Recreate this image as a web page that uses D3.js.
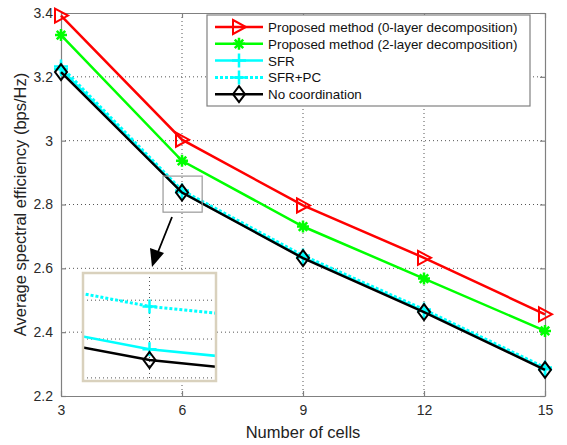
<!DOCTYPE html>
<html>
<head>
<meta charset="utf-8">
<style>
  body { margin: 0; background: #fff; }
  svg { font-family: "Liberation Sans", Arial, sans-serif; }
</style>
</head>
<body>
<svg id="chart" width="567" height="445"></svg>
<script src="https://d3js.org/d3.v7.min.js"></script>
<script>
// data
let cells = [3, 6, 9, 12, 15]
let proposed0 = [3.392, 3.003, 2.797, 2.633, 2.456]
let proposed2 = [3.331, 2.937, 2.731, 2.568, 2.404]
let sfr = [3.224, 2.8387, 2.634, 2.466, 2.284]
let sfrPc = [3.232, 2.8442, 2.640, 2.471, 2.289]
let noCoord = [3.215, 2.8373, 2.632, 2.463, 2.282]
let xTicks = [3, 6, 9, 12, 15]
let yTicks = [2.2, 2.4, 2.6, 2.8, 3.0, 3.2, 3.4]
let legendNames = ['Proposed method (0-layer decomposition)', 'Proposed method (2-layer decomposition)',
    'SFR', 'SFR+PC', 'No coordination']

let series = [
    {name: legendNames[0], vals: proposed0, color: '#ff0000', marker: 'tri', dash: null},
    {name: legendNames[1], vals: proposed2, color: '#00ff00', marker: 'star', dash: null},
    {name: legendNames[2], vals: sfr, color: '#00ffff', marker: 'plus', dash: null},
    {name: legendNames[3], vals: sfrPc, color: '#00ffff', marker: 'plus', dash: '3,2'},
    {name: legendNames[4], vals: noCoord, color: '#000000', marker: 'diamond', dash: null}
]

let svg = d3.select('#chart')
let pLeft = 61, pRight = 545, pTop = 13, pBottom = 396

let x = d3.scaleLinear().domain([3, 15]).range([pLeft, pRight])
let y = d3.scaleLinear().domain([2.2, 3.4]).range([pBottom, pTop])

// grid
let grid = svg.append('g')
grid.selectAll('.vg').data(xTicks.slice(1, -1)).enter().append('line')
    .attr('x1', d => x(d)).attr('x2', d => x(d)).attr('y1', pTop).attr('y2', pBottom)
grid.selectAll('.hg').data(yTicks.slice(1, -1)).enter().append('line')
    .attr('y1', d => y(d)).attr('y2', d => y(d)).attr('x1', pLeft).attr('x2', pRight)
grid.selectAll('line').attr('stroke', '#555').attr('stroke-width', 1).attr('stroke-dasharray', '1,3')

// axes
let fmt = d => String(+d.toFixed(1))
svg.append('g').attr('transform', `translate(0,${pBottom})`)
    .call(d3.axisBottom(x).tickValues(xTicks).tickSizeInner(-5).tickSizeOuter(0).tickPadding(9))
svg.append('g').attr('transform', `translate(${pLeft},0)`)
    .call(d3.axisLeft(y).tickValues(yTicks).tickSizeInner(-5).tickSizeOuter(0).tickFormat(fmt).tickPadding(8))
svg.append('g').attr('transform', `translate(0,${pTop})`)
    .call(d3.axisTop(x).tickValues(xTicks).tickSizeInner(-5).tickSizeOuter(0).tickFormat(''))
svg.append('g').attr('transform', `translate(${pRight},0)`)
    .call(d3.axisRight(y).tickValues(yTicks).tickSizeInner(-5).tickSizeOuter(0).tickFormat(''))
svg.selectAll('.domain, .tick line').attr('stroke', '#808080').attr('stroke-width', 1.2)
svg.selectAll('.tick text').attr('font-size', 14).attr('fill', '#2a2a2a')
    .attr('font-family', '"Liberation Sans", Arial, sans-serif')

svg.append('text').attr('x', (pLeft + pRight) / 2).attr('y', 438).attr('text-anchor', 'middle')
    .attr('font-size', 16.5).attr('fill', '#222').text('Number of cells')
svg.append('text').attr('transform', `translate(26,${(pTop + pBottom) / 2}) rotate(-90)`)
    .attr('text-anchor', 'middle').attr('font-size', 16.5).attr('fill', '#222')
    .text('Average spectral efficiency (bps/Hz)')

// markers
function drawMarker(g, type, cx, cy, color) {
    if (type === 'tri') {
        g.append('path').attr('d', `M${cx - 6},${cy - 7}L${cx + 7},${cy}L${cx - 6},${cy + 7}Z`)
            .attr('fill', 'none').attr('stroke', color).attr('stroke-width', 2)
    } else if (type === 'star') {
        let p = ''
        for (let k = 0; k < 4; k++) {
            let a = k * Math.PI / 4
            p += `M${cx - 6 * Math.cos(a)},${cy - 6 * Math.sin(a)}L${cx + 6 * Math.cos(a)},${cy + 6 * Math.sin(a)}`
        }
        g.append('path').attr('d', p).attr('stroke', color).attr('stroke-width', 2.5)
    } else if (type === 'plus') {
        g.append('path').attr('d', `M${cx - 7},${cy}L${cx + 7},${cy}M${cx},${cy - 7}L${cx},${cy + 7}`)
            .attr('stroke', color).attr('stroke-width', 2.5)
    } else if (type === 'diamond') {
        g.append('path').attr('d', `M${cx},${cy - 8}L${cx + 6},${cy}L${cx},${cy + 8}L${cx - 6},${cy}Z`)
            .attr('fill', 'none').attr('stroke', color).attr('stroke-width', 2)
    }
}

function drawSeries(g, xs, ys) {
    let line = d3.line().x((d, i) => xs(cells[i])).y(d => ys(d))
    series.forEach(s => {
        g.append('path').datum(s.vals).attr('d', line)
            .attr('fill', 'none').attr('stroke', s.color).attr('stroke-width', s.dash ? 3 : 2.5)
            .attr('stroke-dasharray', s.dash)
        s.vals.forEach((v, i) => drawMarker(g, s.marker, xs(cells[i]), ys(v), s.color))
    })
}

drawSeries(svg.append('g'), x, y)

// zoom rectangle around the point at 6 cells
let zoomX = [5.53, 6.5], zoomY = [2.776, 2.889]
svg.append('rect').attr('x', x(zoomX[0])).attr('y', y(zoomY[1]))
    .attr('width', x(zoomX[1]) - x(zoomX[0])).attr('height', y(zoomY[0]) - y(zoomY[1]))
    .attr('fill', 'none').attr('stroke', '#999').attr('stroke-width', 1.2)

// arrow
svg.append('line').attr('x1', 172).attr('y1', 217).attr('x2', 158).attr('y2', 252)
    .attr('stroke', '#000').attr('stroke-width', 1.8)
svg.append('path').attr('d', 'M152,267L150,248L164,253Z').attr('fill', '#000')

// inset
let ix0 = 83, ix1 = 216, iy0 = 273, iy1 = 381
let insetX = d3.scaleLinear().domain([6 - 0.0127, 6 + 0.0127]).range([ix0, ix1])
let insetY = d3.scaleLinear().domain([2.8346, 2.8485]).range([iy1, iy0])
let insetYTicks = [2.835, 2.840, 2.845]

svg.append('rect').attr('x', ix0).attr('y', iy0).attr('width', ix1 - ix0).attr('height', iy1 - iy0)
    .attr('fill', '#fff')
svg.append('clipPath').attr('id', 'insetClip').append('rect')
    .attr('x', ix0).attr('y', iy0).attr('width', ix1 - ix0).attr('height', iy1 - iy0)
let inset = svg.append('g').attr('clip-path', 'url(#insetClip)')
inset.append('line').attr('x1', insetX(6)).attr('x2', insetX(6)).attr('y1', iy0).attr('y2', iy1)
    .attr('stroke', '#555').attr('stroke-dasharray', '1,3')
inset.selectAll('.ig').data(insetYTicks).enter().append('line')
    .attr('x1', ix0).attr('x2', ix1).attr('y1', d => insetY(d)).attr('y2', d => insetY(d))
    .attr('stroke', '#555').attr('stroke-dasharray', '1,3')
drawSeries(inset, insetX, insetY)
svg.append('rect').attr('x', ix0).attr('y', iy0).attr('width', ix1 - ix0).attr('height', iy1 - iy0)
    .attr('fill', 'none').attr('stroke', '#d9d1bd').attr('stroke-width', 2.5)

// legend
let lg = svg.append('g')
lg.append('rect').attr('x', 207).attr('y', 15).attr('width', 323).attr('height', 91)
    .attr('fill', '#fff').attr('stroke', '#808080').attr('stroke-width', 1.2)
series.forEach((s, i) => {
    let ly = 27 + i * 16.8
    lg.append('line').attr('x1', 215).attr('x2', 263).attr('y1', ly).attr('y2', ly)
        .attr('stroke', s.color).attr('stroke-width', s.dash ? 3 : 2.5).attr('stroke-dasharray', s.dash)
    drawMarker(lg, s.marker, 239, ly, s.color)
    lg.append('text').attr('x', 268).attr('y', ly + 5).attr('font-size', 13.4).attr('fill', '#111')
        .text(s.name)
})
</script>
</body>
</html>
